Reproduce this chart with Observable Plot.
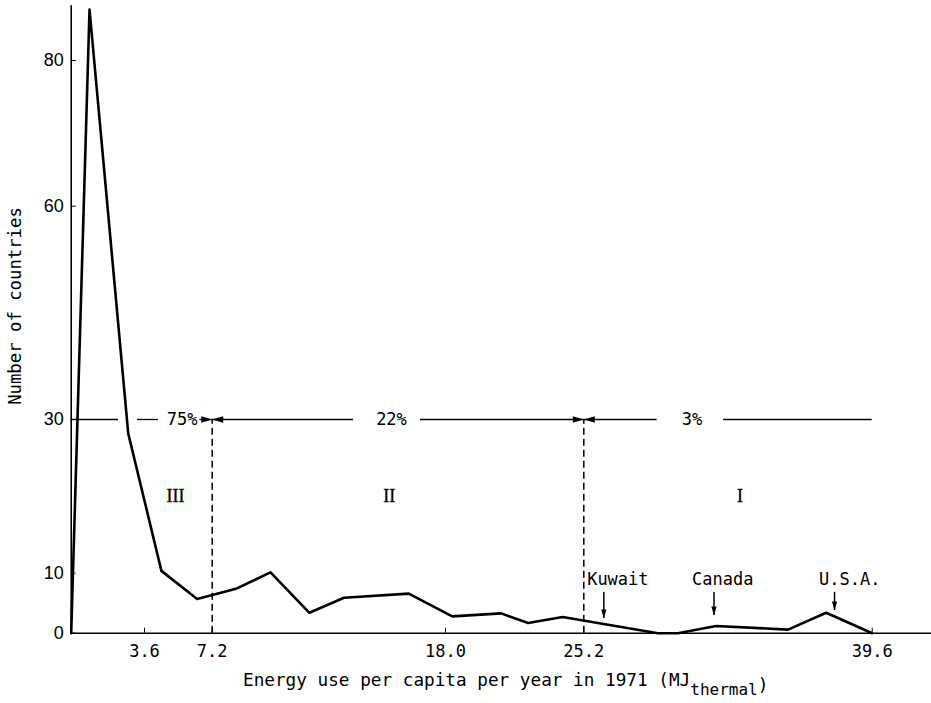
<!DOCTYPE html>
<html>
<head>
<meta charset="utf-8">
<script src="https://cdn.jsdelivr.net/npm/d3@7"></script>
<script src="https://cdn.jsdelivr.net/npm/@observablehq/plot@0.6"></script>
<style>
  html, body { margin: 0; padding: 0; background: #fff; }
</style>
</head>
<body>
<div id="chart"></div>
<script>
// ---- data ----
const energyMJ  = [0, 0.9, 2.8, 4.5, 6.4, 8.3, 9.9, 11.7, 13.3, 16.3, 18.35, 20.9, 22.3, 24.1, 28.9, 29.9, 31.8, 35.4, 37.3, 39.6];
const countries = [0, 87, 28.2, 10.3, 5.7, 7.4, 10.1, 3.4, 5.9, 6.6, 2.8, 3.3, 1.7, 2.7, 0, 0, 1.2, 0.6, 3.4, 0];

const xTicks = [3.6, 7.2, 18.0, 25.2, 39.6];
const yTicks = [0, 10, 30, 60, 80];

// group boundaries (dashed dividers) and group annotations
const groupBounds = [7.2, 25.2];
const groupBoundTop = 30;
const groupNames  = ["III", "II", "I"];
const groupNameX  = [5.25, 15.4, 33.0];
const groupNameY  = 20;
const shareLabels = ["75%", "22%", "3%"];
const shareX      = [5.6, 15.5, 30.6];
const shareY      = 30;
// segments of the 30-level bracket line
const segFrom = [0, 3.26, 6.55, 13.74, 16.84, 28.86, 32.18];
const segTo   = [2.32, 4.34, 7.2, 7.2, 25.2, 25.2, 39.6];
const segHead = [false, false, true, true, true, true, false];

// country pointers
const countryNames  = ["Kuwait", "Canada", "U.S.A."];
const countryLabelX = [26.9, 32.14, 38.48];
const countryLabelY = 9;
const countryArrowX = [26.2, 31.7, 37.72];
const countryArrowFromY = 6.8;
const countryArrowToY   = [2.45, 2.95, 3.78];

// ---- build tables ----
const curve = energyMJ.map((x, i) => ({x, y: countries[i]}));
const segs = segFrom.map((x1, i) => ({x1, x2: segTo[i], y: shareY, head: segHead[i],
                                      angle: segTo[i] > x1 ? 90 : -90}));
const segHeads = segs.filter(d => d.head);
const groups = groupNames.map((name, i) => ({name, x: groupNameX[i], y: groupNameY}));
const shares = shareLabels.map((label, i) => ({label, x: shareX[i], y: shareY}));
const pointers = countryNames.map((name, i) => ({
  name, lx: countryLabelX[i], ly: countryLabelY,
  ax: countryArrowX[i], ay1: countryArrowFromY, ay2: countryArrowToY[i]
}));

// The original's hand-drawn axes are not evenly spaced: warp the data so the
// tick marks land where the reference puts them (piecewise linear).
const xWarp = d3.scaleLinear().domain([0, 3.6, 7.2, 18, 25.2, 39.6]).range([70.7, 144, 211.7, 445, 583.3, 871.7]);
const yWarp = d3.scaleLinear().domain([0, 10, 30, 60, 80]).range([632.7, 572.7, 419, 205.7, 60]);

// filled, slender arrowhead symbol with its tip at the anchor point (points up before rotation)
const headSymbol = (len, half) => ({
  draw(ctx) {
    ctx.moveTo(0, 0);
    ctx.lineTo(half, len);
    ctx.lineTo(-half, len);
    ctx.closePath();
  }
});

const mono = "DejaVu Sans Mono";

const marks = [
  // axis lines
  Plot.ruleX([0], {y1: 0, y2: 87.5, stroke: "#000", strokeWidth: 1.6}),
  Plot.ruleY([0], {x1: 0, x2: 42.6, stroke: "#000", strokeWidth: 1.6}),
  // dashed group dividers
  Plot.ruleX(groupBounds, {y1: 0, y2: groupBoundTop, stroke: "#000", strokeWidth: 1.5, strokeDasharray: "7,4"}),
  // bracket line at 30
  Plot.ruleY(segs, {x1: "x1", x2: "x2", y: "y", stroke: "#000", strokeWidth: 1.3}),
  Plot.dot(segHeads, {x: "x2", y: "y", rotate: "angle", symbol: headSymbol(11, 3.2), r: 4, fill: "#000", stroke: null}),
  Plot.text(shares, {x: "x", y: "y", text: "label", fontFamily: mono, fontSize: 17, fill: "#000"}),
  Plot.text(groups, {x: "x", y: "y", text: "name", fontFamily: "Liberation Serif", fontSize: 18, fill: "#000", stroke: "#000", strokeWidth: 0.3}),
  // country pointers
  Plot.ruleX(pointers, {x: "ax", y1: "ay1", y2: "ay2", stroke: "#000", strokeWidth: 1.5}),
  Plot.dot(pointers, {x: "ax", y: "ay2", rotate: 180, symbol: headSymbol(9, 2.6), r: 4, fill: "#000", stroke: null}),
  Plot.text(pointers, {x: "lx", y: "ly", text: "name", fontFamily: mono, fontSize: 17, fill: "#000"}),
  // the distribution curve
  Plot.line(curve, {x: "x", y: "y", stroke: "#000", strokeWidth: 2.6, strokeLinejoin: "round"}),
  // axes (tick positions go through the same warp as the data)
  Plot.axisX({ticks: xTicks.map(xWarp), tickFormat: d => d3.format(".1f")(xWarp.invert(d)),
              tickSize: -5, tickPadding: 17, label: null,
              fontFamily: mono, fontSize: 17, stroke: "#000", fill: "#000"}),
  Plot.axisY({ticks: yTicks.map(yWarp), tickFormat: d => String(Math.round(yWarp.invert(d))),
              tickSize: -5, tickPadding: 12.4, label: null,
              fontFamily: "Liberation Sans", fontSize: 18, stroke: "#000", fill: "#000"})
];

const plot = Plot.plot({
  width: 931,
  height: 703,
  marginLeft: 70.7,
  marginRight: 0,
  marginTop: 5,
  marginBottom: 70.3,
  style: {background: "#fff", color: "#000", fontFamily: mono, fontSize: "17px"},
  x: {transform: xWarp, domain: [70.7, 931], range: [70.7, 931]},
  y: {transform: yWarp, domain: [632.7, 5], range: [632.7, 5]},
  marks
});

document.getElementById("chart").appendChild(plot);

// axis titles (with the subscript) as real text
const svg = d3.select(plot.tagName.toLowerCase() === "svg" ? plot : plot.querySelector("svg"));
svg.append("text")
  .attr("transform", "translate(21,306) rotate(-90)")
  .attr("text-anchor", "middle")
  .attr("font-family", mono)
  .attr("font-size", 17.3)
  .attr("fill", "#000")
  .text("Number of countries");

const xt = svg.append("text")
  .attr("x", 243)
  .attr("y", 686)
  .attr("text-anchor", "start")
  .attr("font-family", mono)
  .attr("font-size", 17.7)
  .attr("fill", "#000");
xt.append("tspan").text("Energy use per capita per year in 1971 (MJ");
xt.append("tspan").attr("dy", 9).attr("font-size", 16).text("thermal");
xt.append("tspan").attr("dy", -4).text(")");
</script>
</body>
</html>
